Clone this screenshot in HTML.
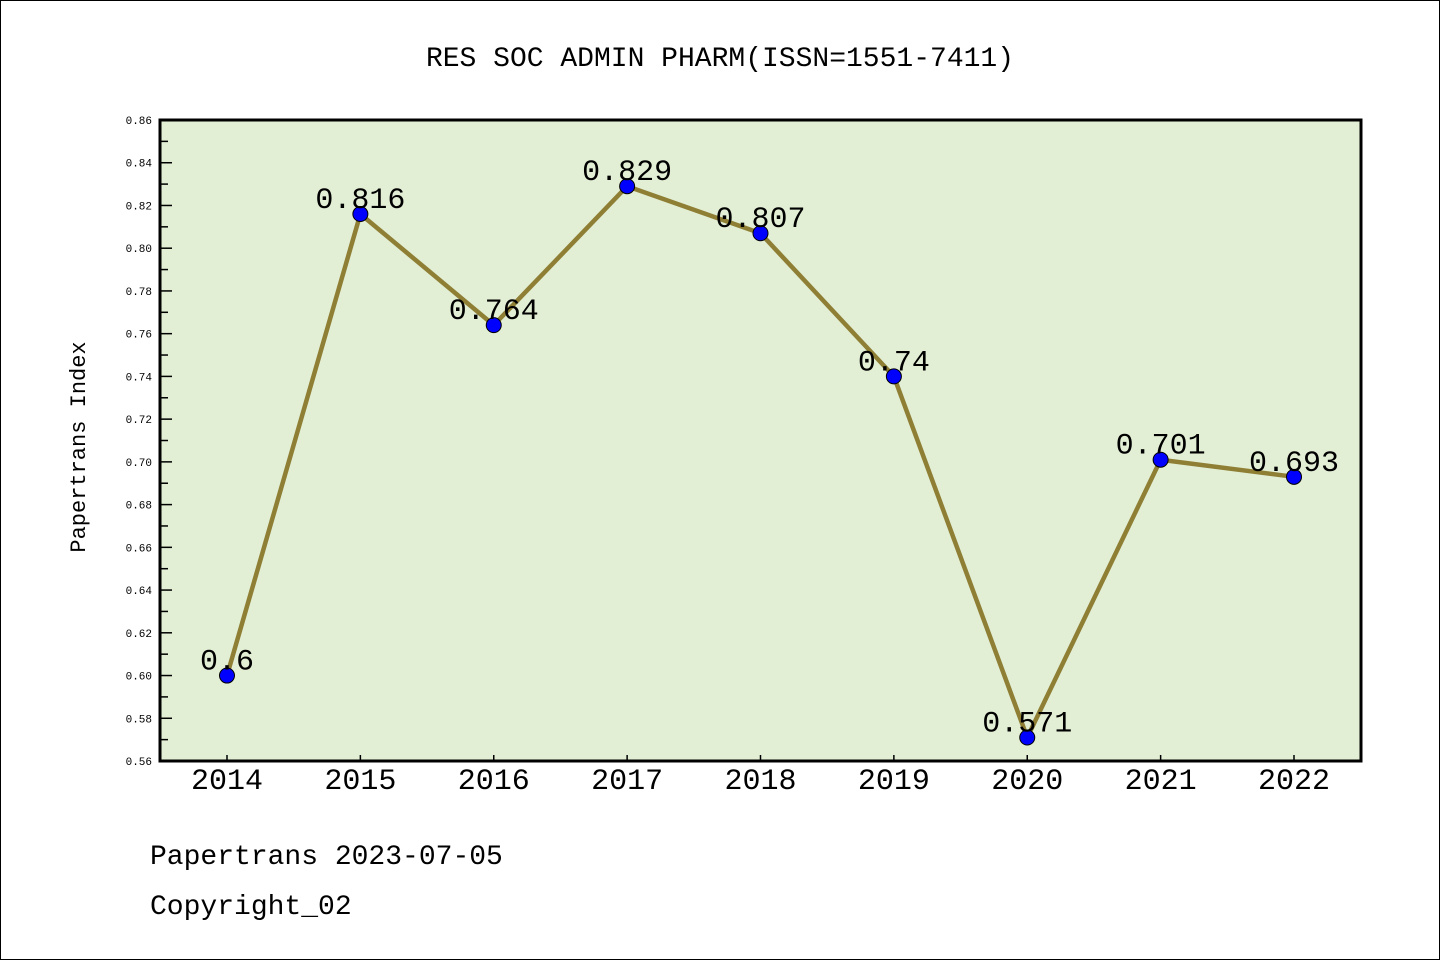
<!DOCTYPE html>
<html><head><meta charset="utf-8"><style>
html,body{margin:0;padding:0;background:#fff}
svg{display:block}
text{font-family:"Liberation Mono","DejaVu Sans Mono",monospace}
</style></head><body>
<svg id="chart" width="1440" height="960" viewBox="0 0 1440 960" xmlns="http://www.w3.org/2000/svg">
<rect x="0.5" y="0.5" width="1439" height="959" fill="#fff" stroke="#000" stroke-width="1"/>
<text x="720" y="66" text-anchor="middle" font-size="28">RES SOC ADMIN PHARM(ISSN=1551-7411)</text>
<rect x="160" y="120" width="1201" height="641" fill="#e2efd5"/>
<g id="yaxis"></g>
<g id="xaxis"></g>
<g id="series"></g>
<rect x="160" y="120" width="1201" height="641" fill="none" stroke="#000" stroke-width="3"/>
<text transform="translate(85,447) rotate(-90)" text-anchor="middle" font-size="22">Papertrans Index</text>
<text x="150" y="864" font-size="28">Papertrans 2023-07-05</text>
<text x="150" y="914" font-size="28">Copyright_02</text>
</svg>
<script>
const years = ["2014","2015","2016","2017","2018","2019","2020","2021","2022"];
const values = [0.6,0.816,0.764,0.829,0.807,0.74,0.571,0.701,0.693];
const valueLabels = ["0.6","0.816","0.764","0.829","0.807","0.74","0.571","0.701","0.693"];
const yTicks = [0.56,0.58,0.60,0.62,0.64,0.66,0.68,0.70,0.72,0.74,0.76,0.78,0.80,0.82,0.84,0.86];
const yMin = 0.56, yMax = 0.86;
const NS = "http://www.w3.org/2000/svg";
const L = 160, R = 1361, T = 120, B = 761;
function yScale(v){ return B - (v - yMin) / (yMax - yMin) * (B - T); }
function xScale(i){ return 227 + i * (1294 - 227) / (years.length - 1); }
function mk(tag, attrs, parent){ const e = document.createElementNS(NS, tag); for (const k in attrs) e.setAttribute(k, attrs[k]); parent.appendChild(e); return e; }
const ya = document.getElementById('yaxis');
yTicks.forEach((t, i) => {
  const y = yScale(t);
  const ln = mk('line', {x1: L, x2: L + 12, y1: y, y2: y, stroke: '#000', 'stroke-width': 1.5}, ya);
  
  
  const tx = mk('text', {x: 152, y: y + 4, 'text-anchor': 'end', 'font-size': 11, 'font-family': 'Liberation Sans, sans-serif'}, ya);
  tx.textContent = t.toFixed(2);
  
  
  if (i < yTicks.length - 1) {
    const ym = yScale(t + 0.01);
    const m = mk('line', {x1: L, x2: L + 8, y1: ym, y2: ym, stroke: '#000', 'stroke-width': 1.5}, ya);
    
    
  }
});
const xa = document.getElementById('xaxis');
years.forEach((yr, i) => {
  const x = xScale(i);
  const ln = mk('line', {x1: x, x2: x, y1: B, y2: B - 6, stroke: '#000', 'stroke-width': 1.5}, xa);
  
  
  const tx = mk('text', {x: x, y: 789, 'text-anchor': 'middle', 'font-size': 30, 'font-family': 'Liberation Sans, sans-serif'}, xa);
  tx.textContent = yr;
  
  
});
const s = document.getElementById('series');
const pts = values.map((v, i) => xScale(i) + ',' + yScale(v)).join(' ');
const pl = mk('polyline', {points: pts, fill: 'none', stroke: '#8f7f35', 'stroke-width': 4.5, 'stroke-linejoin': 'round'}, s);


values.forEach((v, i) => {
  const c = mk('circle', {cx: xScale(i), cy: yScale(v), r: 7.5, fill: '#0000ff', stroke: '#000', 'stroke-width': 1}, s);
  
  
  const t = mk('text', {x: xScale(i), y: yScale(v) - 6, 'text-anchor': 'middle', 'font-size': 30}, s);
  t.textContent = valueLabels[i];
  
  
});
</script>
</body></html>
